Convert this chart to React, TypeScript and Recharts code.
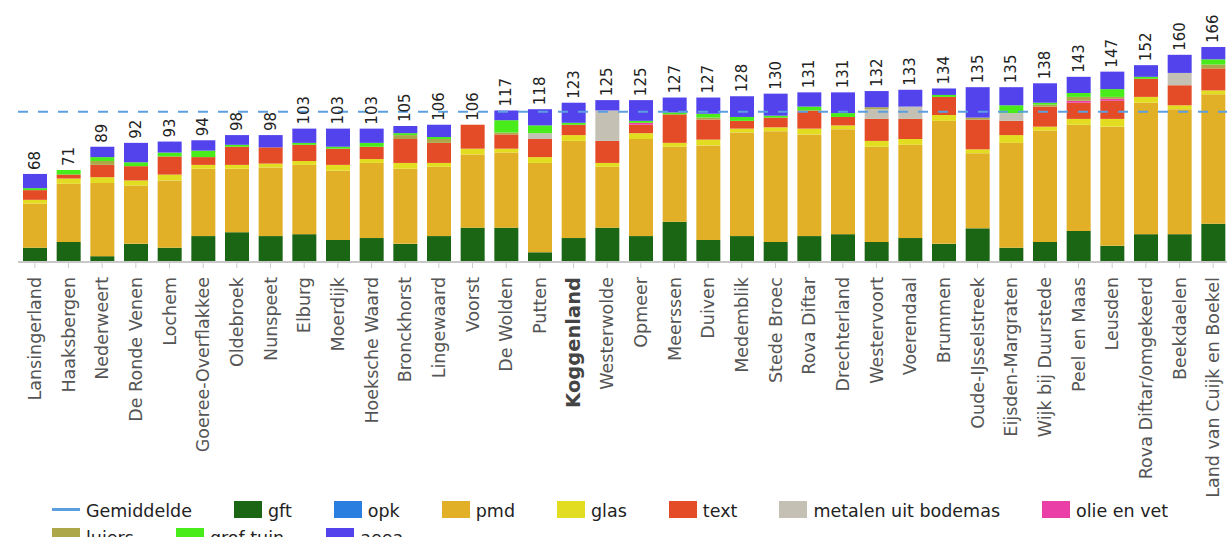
import React from 'react';
import { BarChart, Bar, XAxis, YAxis, ReferenceLine, LabelList } from 'recharts';

const categories = [
  'Lansingerland', 'Haaksbergen', 'Nederweert', 'De Ronde Venen', 'Lochem', 'Goeree-Overflakkee',
  'Oldebroek', 'Nunspeet', 'Elburg', 'Moerdijk', 'Hoeksche Waard', 'Bronckhorst', 'Lingewaard',
  'Voorst', 'De Wolden', 'Putten', 'Koggenland', 'Westerwolde', 'Opmeer', 'Meerssen', 'Duiven',
  'Medemblik', 'Stede Broec', 'Rova Diftar', 'Drechterland', 'Westervoort', 'Voerendaal', 'Brummen',
  'Oude-IJsselstreek', 'Eijsden-Margraten', 'Wijk bij Duurstede', 'Peel en Maas', 'Leusden',
  'Rova Diftar/omgekeerd', 'Beekdaelen', 'Land van Cuijk en Boekel',
];

const totals = [68, 71, 89, 92, 93, 94, 98, 98, 103, 103, 103, 105, 106, 106, 117, 118, 123, 125, 125, 127, 127, 128, 130, 131, 131, 132, 133, 134, 135, 135, 138, 143, 147, 152, 160, 166];

const gft = [11, 15.5, 4.5, 14, 11, 20, 23, 20, 21.5, 17, 18.5, 14, 20, 26.5, 26.5, 7.5, 18.5, 26.5, 20, 31, 17, 20, 15.5, 20, 21.5, 15.5, 18.5, 14, 26, 11, 15.5, 24, 12.5, 21.5, 21.5, 29.5];
const opk = [0, 0, 0, 0, 0, 0, 0, 0, 0, 0, 0, 0, 0, 0, 0, 0, 0, 0, 0, 0, 0, 0, 0, 0, 0, 0, 0, 0, 0, 0, 0, 0, 0, 0, 0, 0];
const pmd = [34, 45, 56.5, 45, 52, 52, 49, 53, 53.5, 53.5, 58, 58, 53.5, 56.5, 58, 69, 75, 47, 75, 58, 73, 80, 85.5, 78.5, 81, 73.5, 72, 95, 58, 81, 86, 82, 92, 101.5, 96.5, 100];
const glas = [3, 4, 4.5, 4, 4.5, 3, 3, 3, 3, 4.5, 3, 4.5, 3, 4.5, 3, 4.5, 4.5, 3, 4.5, 3, 4.5, 3, 3, 4.5, 3, 4.5, 4.5, 4.5, 3, 6, 3, 4.5, 6, 4.5, 3, 3];
const text = [7.5, 3, 9.5, 11, 14, 6, 14, 12.5, 12.5, 12.5, 9.5, 18.5, 15.5, 18.5, 11, 14, 8, 17, 6.5, 22, 15.5, 6, 7.5, 14, 6.5, 17, 15.5, 14, 23, 11, 15.5, 12.5, 14, 14, 15.5, 17];
const metalen = [0, 0, 0, 0, 0, 0, 0, 0, 0, 0, 0, 0, 0, 0, 0, 4.5, 0, 23.5, 0, 0, 0, 0, 0, 0, 0, 7.5, 9.5, 0, 0, 6, 0, 0, 0, 0, 9.5, 0];
const olie = [0, 0, 0, 0, 0, 0, 0, 0, 0, 0, 0, 0, 0, 0, 0, 0, 0, 0, 1.5, 0, 0, 0, 0, 0, 0, 0, 0, 0, 0, 0, 0, 1.5, 1.5, 0, 0, 0];
const luiers = [0, 0, 3, 0, 0, 0, 0, 0, 0, 0, 0, 3, 3, 0, 1.5, 0, 0, 0, 0, 0, 1.5, 0, 0, 0, 0, 1.5, 0, 0, 1.5, 0, 1.5, 3, 1.5, 0, 0, 3];
const grofTuin = [1.5, 3.5, 3, 3, 3, 5, 1.5, 0, 1.5, 1.5, 3, 1.5, 1.5, 0, 9.5, 6, 1.5, 0, 1.5, 1.5, 3, 3, 1.5, 3, 3, 0, 0, 1.5, 0, 6, 1.5, 3, 6, 1.5, 0, 4];
const aeea = [11, 0, 8, 15, 8.5, 8, 7.5, 9.5, 11, 14, 11, 5.5, 9.5, 0, 7.5, 12.5, 15.5, 8, 16, 11.5, 12.5, 16, 17, 11, 16, 12.5, 13, 5, 23.5, 14, 15, 12.5, 13.5, 9, 14, 9.5];

const average = 116;
const highlighted = 'Koggenland';

const seriesKeys = ['gft', 'opk', 'pmd', 'glas', 'text', 'metalen', 'olie', 'luiers', 'grofTuin', 'aeea'];
const seriesNames = ['gft', 'opk', 'pmd', 'glas', 'text', 'metalen uit bodemas', 'olie en vet', 'luiers', 'grof tuin', 'aeea'];
const seriesValues = [gft, opk, pmd, glas, text, metalen, olie, luiers, grofTuin, aeea];
const seriesColors = ['#1b6614', '#2a7ee0', '#e1b026', '#e3dd22', '#e44b27', '#c4c0b4', '#e93fa7', '#aca84a', '#47ec1a', '#5243ed'];
const avgColor = '#5c9fe0';

const data = categories.map((name, i) => {
  const row: Record<string, any> = { name, total: totals[i] };
  seriesKeys.forEach((k, j) => {
    row[k] = seriesValues[j][i];
  });
  return row;
});

const FONT = '"DejaVu Sans", Verdana, sans-serif';

const CategoryTick = (props: any) => {
  const { x, y, payload } = props;
  const bold = payload.value === highlighted;
  return (
    <text
      x={x}
      y={y}
      transform={`rotate(-90 ${x} ${y})`}
      textAnchor="end"
      dominantBaseline="central"
      fontFamily={FONT}
      fontSize={bold ? 19.5 : 17.5}
      fontWeight={bold ? 'bold' : 'normal'}
      fill={bold ? '#444' : '#555'}
    >
      {payload.value}
    </text>
  );
};

const TotalLabel = (props: any) => {
  const { x, y, width, value } = props;
  const cx = Number(x) + Number(width) / 2;
  const cy = Number(y) - 4;
  return (
    <text
      x={cx}
      y={cy}
      transform={`rotate(-90 ${cx} ${cy})`}
      textAnchor="start"
      dominantBaseline="central"
      fontFamily={FONT}
      fontSize={15}
      fill="#222"
    >
      {value}
    </text>
  );
};

const legendItems = [
  { name: 'Gemiddelde', color: avgColor, line: true },
  ...seriesNames.map((n, i) => ({ name: n, color: seriesColors[i], line: false })),
];

const Legend = () => (
  <div
    style={{
      position: 'absolute',
      left: 52,
      top: 496,
      width: 1175,
      display: 'flex',
      flexWrap: 'wrap',
      fontFamily: FONT,
      fontSize: 17.5,
      lineHeight: '20px',
      color: '#222',
    }}
  >
    {legendItems.map((it) => (
      <div key={it.name} style={{ display: 'flex', alignItems: 'center', height: 27, marginRight: 42, whiteSpace: 'nowrap' }}>
        {it.line ? (
          <div style={{ width: 28, height: 3, background: it.color, marginRight: 6 }} />
        ) : (
          <div style={{ width: 28, height: 17, background: it.color, marginRight: 6 }} />
        )}
        <span style={{ position: 'relative', top: 1 }}>{it.name}</span>
      </div>
    ))}
  </div>
);

export default function App() {
  return (
    <div style={{ position: 'absolute', left: 0, top: 0, width: 1227, height: 537, overflow: 'hidden', background: '#fff' }}>
      <BarChart
        width={1240}
        height={537}
        data={data}
        margin={{ top: 3, right: 10, left: 18, bottom: 0 }}
        barSize={24}
      >
        <XAxis
          xAxisId="a"
          dataKey="name"
          interval={0}
          height={275}
          tick={<CategoryTick />}
          tickSize={6}
          tickMargin={9}
          tickLine={{ stroke: '#ccc' }}
          axisLine={{ stroke: '#c8c8c8', strokeWidth: 2 }}
        />
        <XAxis xAxisId="z" dataKey="name" hide height={0} />
        <YAxis hide domain={[0, 200]} />
        {seriesKeys.map((k, j) => (
          <Bar
            key={k}
            xAxisId="a"
            dataKey={k}
            name={seriesNames[j]}
            stackId="a"
            fill={seriesColors[j]}
            isAnimationActive={false}
          />
        ))}
        <Bar xAxisId="z" dataKey="total" fill="none" isAnimationActive={false}>
          <LabelList dataKey="total" content={<TotalLabel />} />
        </Bar>
        <ReferenceLine
          xAxisId="a"
          y={average}
          stroke={avgColor}
          strokeWidth={2}
          strokeDasharray="10 10"
          ifOverflow="visible"
        />
      </BarChart>
      <Legend />
    </div>
  );
}
